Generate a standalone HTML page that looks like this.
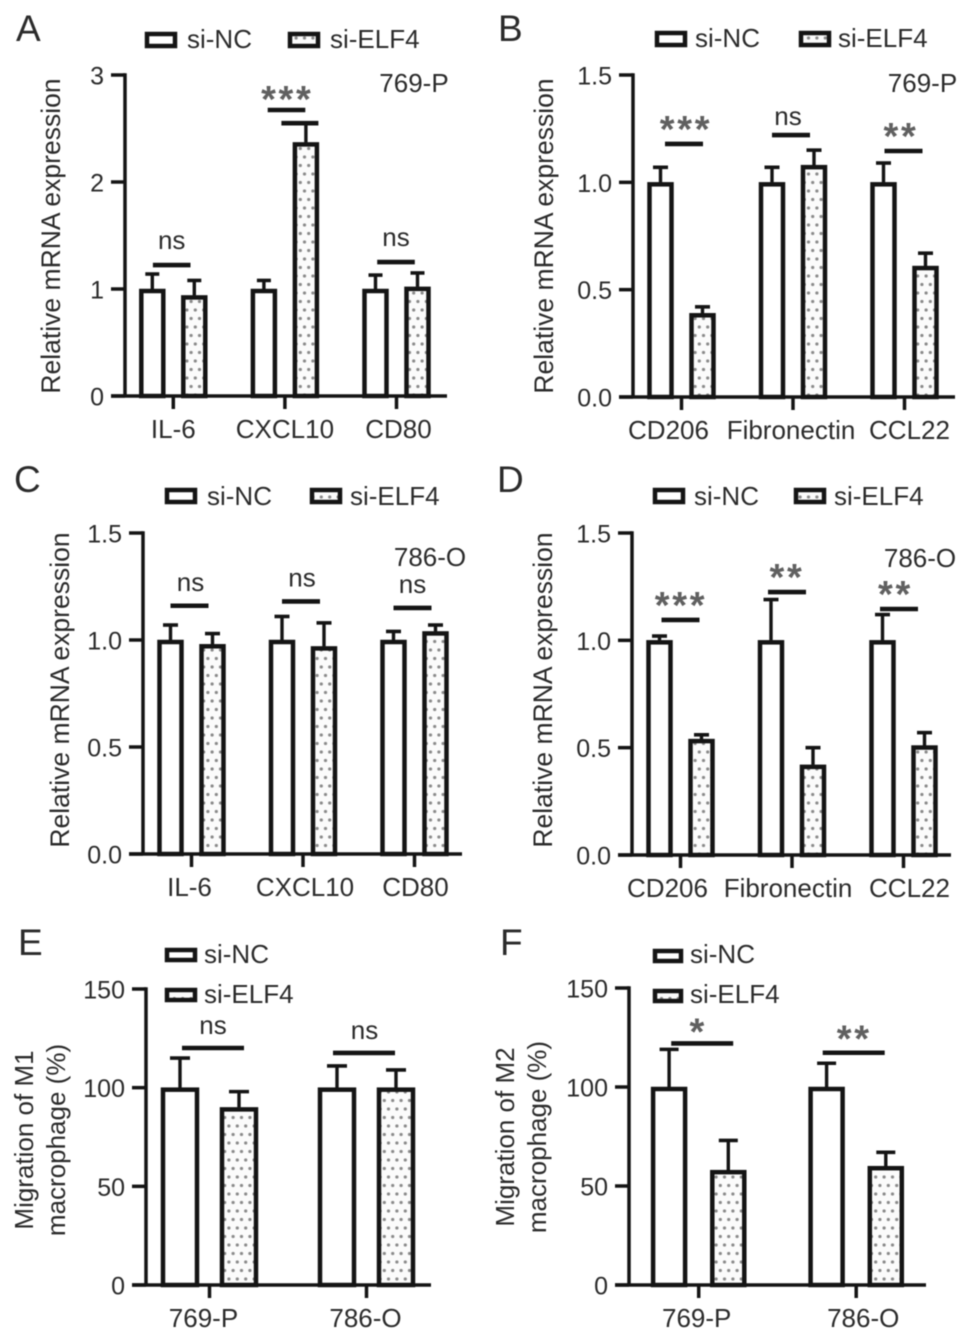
<!DOCTYPE html>
<html lang="en">
<head>
<meta charset="utf-8">
<title>si-ELF4 relative mRNA expression and macrophage migration</title>
<style>
html,body{margin:0;padding:0;background:#fff;width:969px;height:1342px;overflow:hidden}
svg{display:block;filter:blur(0.5px)}
text{font-family:"Liberation Sans",Arial,sans-serif;fill:#2b2b2b}
</style>
</head>
<body>
<svg id="figure" xmlns="http://www.w3.org/2000/svg" width="969" height="1342" viewBox="0 0 969 1342">
<defs>
<pattern id="dots" width="8.4" height="17" patternUnits="userSpaceOnUse">
<rect width="8.4" height="17" fill="#fbfbfb"/>
<circle cx="2.1" cy="4" r="1.6" fill="#8a8a8a"/>
<circle cx="6.3" cy="12.5" r="1.6" fill="#8a8a8a"/>
</pattern>
</defs>
</svg>
<script>
// ---------- chart data ----------
const seriesNames = ['si-NC', 'si-ELF4'];

const aCategories = ['IL-6', 'CXCL10', 'CD80'];
const aTicks = [0, 1, 2, 3];
const aTickLabels = ['0', '1', '2', '3'];
const aNC = [1, 1, 1];
const aNCErr = [0.14, 0.08, 0.13];
const aELF4 = [0.94, 2.37, 1.02];
const aELF4Err = [0.14, 0.18, 0.13];
const aSigLabels = ['ns', '***', 'ns'];
const aSigLevels = [1.224, 2.673, 1.252];
const aUpperLineLevel = 2.55;

const bCategories = ['CD206', 'Fibronectin', 'CCL22'];
const bTicks = [0, 0.5, 1, 1.5];
const bTickLabels = ['0.0', '0.5', '1.0', '1.5'];
const bNC = [1, 1, 1];
const bNCErr = [0.07, 0.07, 0.09];
const bELF4 = [0.39, 1.08, 0.61];
const bELF4Err = [0.03, 0.07, 0.06];
const bSigLabels = ['***', 'ns', '**'];
const bSigLevels = [1.179, 1.22, 1.146];

const cCategories = ['IL-6', 'CXCL10', 'CD80'];
const cTicks = [0, 0.5, 1, 1.5];
const cTickLabels = ['0.0', '0.5', '1.0', '1.5'];
const cNC = [1, 1, 1];
const cNCErr = [0.07, 0.11, 0.04];
const cELF4 = [0.98, 0.97, 1.04];
const cELF4Err = [0.05, 0.11, 0.03];
const cSigLabels = ['ns', 'ns', 'ns'];
const cSigLevels = [1.16, 1.18, 1.15];

const dCategories = ['CD206', 'Fibronectin', 'CCL22'];
const dTicks = [0, 0.5, 1, 1.5];
const dTickLabels = ['0.0', '0.5', '1.0', '1.5'];
const dNC = [1, 1, 1];
const dNCErr = [0.02, 0.19, 0.12];
const dELF4 = [0.54, 0.42, 0.51];
const dELF4Err = [0.02, 0.08, 0.06];
const dSigLabels = ['***', '**', '**'];
const dSigLevels = [1.095, 1.225, 1.146];

const eCategories = ['769-P', '786-O'];
const eTicks = [0, 50, 100, 150];
const eTickLabels = ['0', '50', '100', '150'];
const eNC = [100, 100];
const eNCErr = [15, 11];
const eELF4 = [90, 100];
const eELF4Err = [8, 9];
const eSigLabels = ['ns', 'ns'];
const eSigLevels = [120.1, 117.6];

const fCategories = ['769-P', '786-O'];
const fTicks = [0, 50, 100, 150];
const fTickLabels = ['0', '50', '100', '150'];
const fNC = [100, 100];
const fNCErr = [19, 12];
const fELF4 = [58, 60];
const fELF4Err = [15, 7];
const fSigLabels = ['*', '**'];
const fSigLevels = [122, 117.3];

// ---------- layout ----------
const panels = [
  {id:'a', letter:'A', lx:16, ly:41, axisX:125, top:75, base:396, right:447, max:3,
   cx0:173.3, step:111.6, barOff:21, barW:22, capW:14, brHalf:18.8,
   cats:aCategories, ticks:aTicks, tickLabels:aTickLabels, nc:aNC, ncErr:aNCErr, elf:aELF4, elfErr:aELF4Err,
   sig:aSigLabels, sigLv:aSigLevels, sigDx:[-1.6,1.6,-0.5], textDx:[-1.6,2.4,-0.5], textDy:[-16,2,-16], catDx:[0,0,2],
   title:['Relative mRNA expression'], titleFs:26.5, titleX:[60], titleY:236,
   swW:28, swH:12, legend:[[145,40,187,48],[288,40,330,48]], note:'769-P', noteX:414, noteY:92,
   upperLine:{level:aUpperLineLevel, group:1, dx:15, half:18.5}},
  {id:'b', letter:'B', lx:498, ly:41, axisX:633, top:75, base:397, right:955, max:1.5,
   cx0:681.5, step:111.5, barOff:21, barW:22, capW:15, brHalf:19,
   cats:bCategories, ticks:bTicks, tickLabels:bTickLabels, nc:bNC, ncErr:bNCErr, elf:bELF4, elfErr:bELF4Err,
   sig:bSigLabels, sigLv:bSigLevels, sigDx:[2.5,-2,-1], textDx:[4.5,-5,-3.5], textDy:[-2,-10,-2], catDx:[-13,-2,5],
   title:['Relative mRNA expression'], titleFs:26.5, titleX:[553], titleY:236,
   swW:28, swH:12, legend:[[655,39,695,47],[799,39,838,47]], note:'769-P', noteX:922.5, noteY:92},
  {id:'c', letter:'C', lx:14, ly:492, axisX:143, top:533, base:854, right:462, max:1.5,
   cx0:191.5, step:111.5, barOff:21, barW:22, capW:15, brHalf:19,
   cats:cCategories, ticks:cTicks, tickLabels:cTickLabels, nc:cNC, ncErr:cNCErr, elf:cELF4, elfErr:cELF4Err,
   sig:cSigLabels, sigLv:cSigLevels, sigDx:[-2,-2,-2], textDx:[-1,-1,-2], textDy:[-15,-15,-15], catDx:[-2,2,1],
   title:['Relative mRNA expression'], titleFs:26.5, titleX:[69], titleY:690,
   swW:28, swH:12, legend:[[165,496,207,505],[310,496,350,505]], note:'786-O', noteX:430, noteY:566},
  {id:'d', letter:'D', lx:497, ly:492, axisX:632, top:533, base:855, right:951, max:1.5,
   cx0:680.5, step:111.5, barOff:21, barW:22, capW:15, brHalf:19,
   cats:dCategories, ticks:dTicks, tickLabels:dTickLabels, nc:dNC, ncErr:dNCErr, elf:dELF4, elfErr:dELF4Err,
   sig:dSigLabels, sigLv:dSigLevels, sigDx:[0,-5,-4.5], textDx:[0.5,-5,-8], textDy:[-2,-2,-2], catDx:[-13,-4,6],
   title:['Relative mRNA expression'], titleFs:26.5, titleX:[552], titleY:690,
   swW:28, swH:12, legend:[[653,496,694,505],[794,496,834,505]], note:'786-O', noteX:920, noteY:567},
  {id:'e', letter:'E', lx:18, ly:955, axisX:146, top:989, base:1285, right:431, max:150,
   cx0:209.5, step:157, barOff:29.5, barW:34, capW:20, brHalf:31,
   cats:eCategories, ticks:eTicks, tickLabels:eTickLabels, nc:eNC, ncErr:eNCErr, elf:eELF4, elfErr:eELF4Err,
   sig:eSigLabels, sigLv:eSigLevels, sigDx:[3.5,-2.5], textDx:[3.5,-2], textDy:[-14,-14], catDx:[-6,-1],
   title:['Migration of M1','macrophage (%)'], titleFs:26, titleX:[33,65], titleY:1140,
   swW:28, swH:10, legend:[[165,955,204,963],[165,995,204,1003]]},
  {id:'f', letter:'F', lx:500, ly:955, axisX:629, top:988, base:1285, right:926, max:150,
   cx0:698.7, step:157.5, barOff:29.6, barW:32, capW:19, brHalf:31,
   cats:fCategories, ticks:fTicks, tickLabels:fTickLabels, nc:fNC, ncErr:fNCErr, elf:fELF4, elfErr:fELF4Err,
   sig:fSigLabels, sigLv:fSigLevels, sigDx:[3.5,-2.5], textDx:[-0.5,-2], textDy:[1,-1], catDx:[-2,7],
   title:['Migration of M2','macrophage (%)'], titleFs:26, titleX:[514,546], titleY:1137,
   swW:26, swH:10, legend:[[653,956,690,963],[653,996,690,1003]]}
];

const INK = '#141414';
const NS = 'http://www.w3.org/2000/svg';
const svg = document.getElementById('figure');

function make(tag, name, attrs, parent) {
  const el = document.createElementNS(NS, tag);
  
  
  for (const k in attrs) el.setAttribute(k, attrs[k]);
  (parent || svg).appendChild(el);
  return el;
}
function line(name, x1, y1, x2, y2, w, parent) {
  return make('line', name, {x1, y1, x2, y2, stroke: INK, 'stroke-width': w}, parent);
}
function label(name, str, x, y, size, anchor, parent, extra) {
  const t = make('text', name, Object.assign({x, y, 'font-size': size, 'text-anchor': anchor}, extra || {}), parent);
  t.textContent = str;
  return t;
}

function drawPanel(p) {
  const g = make('g', 'panel-' + p.id, {}, svg);
  const yScale = v => p.base - v / p.max * (p.base - p.top);
  const xScale = i => p.cx0 + i * p.step;

  label('panel-letter-' + p.id, p.letter, p.lx, p.ly, 37, 'start', g);

  // legend
  p.legend.forEach((L, s) => {
    make('rect', 'legend-swatch-' + seriesNames[s], {
      x: L[0] + 2, y: L[1] - p.swH / 2, width: p.swW, height: p.swH,
      fill: s ? 'url(#dots)' : '#fff', stroke: INK, 'stroke-width': 4.5
    }, g);
    label('legend-label-' + seriesNames[s], seriesNames[s], L[2], L[3], 26, 'start', g);
  });

  // bars and error bars
  p.cats.forEach((cat, i) => {
    [[p.nc, p.ncErr, -1, 'nc'], [p.elf, p.elfErr, 1, 'elf4']].forEach(S => {
      const cx = xScale(i) + S[2] * p.barOff;
      const yTop = yScale(S[0][i]);
      const yErr = yScale(S[0][i] + S[1][i]);
      line('error-bar-' + S[3] + '-' + cat, cx, yTop, cx, yErr, 3.4, g);
      line('error-cap-' + S[3] + '-' + cat, cx - p.capW / 2, yErr, cx + p.capW / 2, yErr, 3.6, g);
      make('rect', 'bar-' + S[3] + '-' + cat, {
        x: cx - p.barW / 2, y: yTop + 2, width: p.barW, height: p.base - yTop - 2,
        fill: S[3] === 'nc' ? '#fff' : 'url(#dots)', stroke: INK, 'stroke-width': 4.5
      }, g);
    });
  });

  // axes
  line('y-axis', p.axisX, p.top - 1.7, p.axisX, p.base, 3.5, g);
  line('x-axis', p.axisX - 14, p.base, p.right, p.base, 3.5, g);
  p.ticks.forEach((v, i) => {
    line('y-tick-' + p.tickLabels[i], p.axisX - 14, yScale(v), p.axisX, yScale(v), 3.5, g);
    label('y-tick-label-' + p.tickLabels[i], p.tickLabels[i], p.axisX - 21, yScale(v) + 9.5, 25, 'end', g);
  });
  p.cats.forEach((cat, i) => {
    line('x-tick-' + cat, xScale(i), p.base, xScale(i), p.base + 13, 3.5, g);
    label('x-label-' + cat, cat, xScale(i) + p.catDx[i], p.base + 42, 26, 'middle', g);
  });

  // y axis title
  p.title.forEach((t, i) => {
    const x = p.titleX[i];
    label('y-axis-title', t, x, p.titleY, p.titleFs, 'middle', g, {transform: 'rotate(-90 ' + x + ' ' + p.titleY + ')'});
  });

  // significance brackets
  p.sig.forEach((s, i) => {
    const cx = xScale(i) + p.sigDx[i];
    const y = yScale(p.sigLv[i]);
    line('significance-bracket-' + i, cx - p.brHalf, y, cx + p.brHalf, y, 4.6, g);
    const tx = xScale(i) + p.textDx[i];
    const ty = y + p.textDy[i];
    if (s === 'ns') {
      label('significance-label-' + i, s, tx, ty, 26, 'middle', g);
    } else {
      label('significance-label-' + i, s, tx, ty, 38, 'middle', g, {'letter-spacing': 2.7, 'font-weight': 'bold', style: 'fill:#606060'});
    }
  });

  // extra heavy line above the CXCL10 error bar in panel A
  if (p.upperLine) {
    const u = p.upperLine;
    const ux = xScale(u.group) + u.dx;
    line('upper-line-cxcl10', ux - u.half, yScale(u.level), ux + u.half, yScale(u.level), 4.6, g);
  }

  // cell-line annotation
  if (p.note) label('cell-line-label', p.note, p.noteX, p.noteY, 26, 'middle', g);
}

panels.forEach(drawPanel);
</script>
</body>
</html>
